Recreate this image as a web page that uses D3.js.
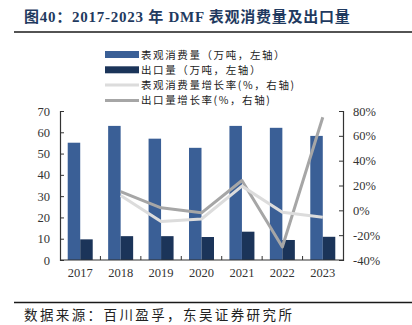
<!DOCTYPE html>
<html>
<head>
<meta charset="utf-8">
<script src="https://cdn.jsdelivr.net/npm/d3@7/dist/d3.min.js"></script>
<style>
  html, body { margin: 0; padding: 0; background: #fff; }
  svg { display: block; }
</style>
</head>
<body>
<svg id="chart" width="412" height="325"></svg>
<script>
// DMF apparent consumption and exports, 2017-2023
const years = ["2017", "2018", "2019", "2020", "2021", "2022", "2023"];
const consumption = [55.1, 63.0, 57.0, 52.7, 63.0, 62.1, 58.3];       // 万吨
const exportsVol = [9.7, 11.2, 11.2, 10.8, 13.3, 9.4, 10.9];          // 万吨
const consumptionGrowth = [null, 12, -9, -7, 19.5, -1.5, -5.5];      // %
const exportGrowth = [null, 15, 2, -2, 24, -29.5, 75];               // %
const leftTicks = [0, 10, 20, 30, 40, 50, 60, 70];
const rightTicks = [-40, -20, 0, 20, 40, 60, 80];

const legendItems = [
  { label: "表观消费量（万吨，左轴）", type: "bar", color: "#3A5F96" },
  { label: "出口量（万吨，左轴）", type: "bar", color: "#1B3459" },
  { label: "表观消费量增长率(%，右轴)", type: "line", color: "#DCDCDC" },
  { label: "出口量增长率(%，右轴)", type: "line", color: "#A6A6A6" }
];

const svg = d3.select("#chart");
const serif = "'Liberation Serif', 'Times New Roman', serif";
const cjk = "'Noto Sans CJK SC', sans-serif";

// Title and rules
svg.append("text")
  .attr("x", 24).attr("y", 22)
  .attr("font-family", serif + ", " + cjk)
  .attr("font-weight", "bold")
  .attr("font-size", 15)
  .attr("letter-spacing", 0.75)
  .attr("fill", "#1F3A60")
  .text("图40：2017-2023 年 DMF 表观消费量及出口量");
svg.append("line").attr("x1", 14).attr("x2", 412).attr("y1", 32).attr("y2", 32)
  .attr("stroke", "#1a1a1a").attr("stroke-width", 1.6);
svg.append("line").attr("x1", 14).attr("x2", 412).attr("y1", 302.5).attr("y2", 302.5)
  .attr("stroke", "#1a1a1a").attr("stroke-width", 1.6);
svg.append("text")
  .attr("x", 24).attr("y", 320)
  .attr("font-family", cjk)
  .attr("font-size", 13.5)
  .attr("letter-spacing", 2.4)
  .attr("fill", "#222")
  .text("数据来源：百川盈孚，东吴证券研究所");

// Plot area
const x0 = 60, x1 = 343, yTop = 111, yBot = 260;
const x = d3.scaleBand().domain(years).range([x0, x1]).paddingInner(0).paddingOuter(0);
const yL = d3.scaleLinear().domain([0, 70]).range([yBot, yTop]);
const yR = d3.scaleLinear().domain([-40, 80]).range([yBot, yTop]);
const barW = 12.5;
const groupOffset = (x.bandwidth() - 2 * barW) / 2;

// Bars
svg.append("g").selectAll("rect").data(years).join("rect")
  .attr("x", d => x(d) + groupOffset)
  .attr("y", (d, i) => yL(consumption[i]))
  .attr("width", barW)
  .attr("height", (d, i) => yBot - yL(consumption[i]))
  .attr("fill", "#3A5F96");
svg.append("g").selectAll("rect").data(years).join("rect")
  .attr("x", d => x(d) + groupOffset + barW)
  .attr("y", (d, i) => yL(exportsVol[i]))
  .attr("width", barW)
  .attr("height", (d, i) => yBot - yL(exportsVol[i]))
  .attr("fill", "#1B3459");

// Growth lines
const line = d3.line()
  .defined(d => d.v !== null)
  .x(d => x(d.year) + x.bandwidth() / 2)
  .y(d => yR(d.v));
svg.append("path")
  .datum(years.map((year, i) => ({ year, v: exportGrowth[i] })))
  .attr("d", line)
  .attr("fill", "none").attr("stroke", "#A6A6A6").attr("stroke-width", 3)
  .attr("stroke-linejoin", "round");
svg.append("path")
  .datum(years.map((year, i) => ({ year, v: consumptionGrowth[i] })))
  .attr("d", line)
  .attr("fill", "none").attr("stroke", "#DCDCDC").attr("stroke-width", 3)
  .attr("stroke-linejoin", "round");

// Axes
const axisColor = "#333";
const gL = svg.append("g").attr("transform", `translate(${x0},0)`)
  .call(d3.axisLeft(yL).tickValues(leftTicks).tickSize(-4).tickPadding(10));
const gR = svg.append("g").attr("transform", `translate(${x1},0)`)
  .call(d3.axisRight(yR).tickValues(rightTicks).tickSize(-4).tickPadding(10)
    .tickFormat(d => d + "%"));
const gB = svg.append("g").attr("transform", `translate(0,${yBot})`)
  .call(d3.axisBottom(x).tickSize(0).tickPadding(8));

[gL, gR, gB].forEach(g => {
  g.select(".domain").attr("stroke", axisColor).attr("stroke-width", 1.2);
  g.selectAll(".tick line").attr("stroke", axisColor);
  g.selectAll("text").attr("font-family", serif).attr("font-size", 12.5).attr("fill", "#333");
});
gB.select(".domain").attr("d", `M${x0},0H${x1}`);

// Category separators on the bottom axis
svg.append("g").selectAll("line").data(years.slice(1)).join("line")
  .attr("x1", d => x(d)).attr("x2", d => x(d))
  .attr("y1", yBot).attr("y2", yBot - 4)
  .attr("stroke", axisColor);

// Legend
const lg = svg.append("g");
legendItems.forEach((item, i) => {
  const cy = 54.5 + i * 15.3;
  if (item.type === "bar") {
    lg.append("rect").attr("x", 105).attr("y", cy - 3.5).attr("width", 34).attr("height", 7)
      .attr("fill", item.color);
  } else {
    lg.append("line").attr("x1", 105).attr("x2", 139).attr("y1", cy).attr("y2", cy)
      .attr("stroke", item.color).attr("stroke-width", 3);
  }
  lg.append("text").attr("x", 141).attr("y", cy + 4)
    .attr("font-family", cjk).attr("font-size", 10.5).attr("letter-spacing", 1.6)
    .attr("fill", "#222")
    .text(item.label);
});
</script>
</body>
</html>
